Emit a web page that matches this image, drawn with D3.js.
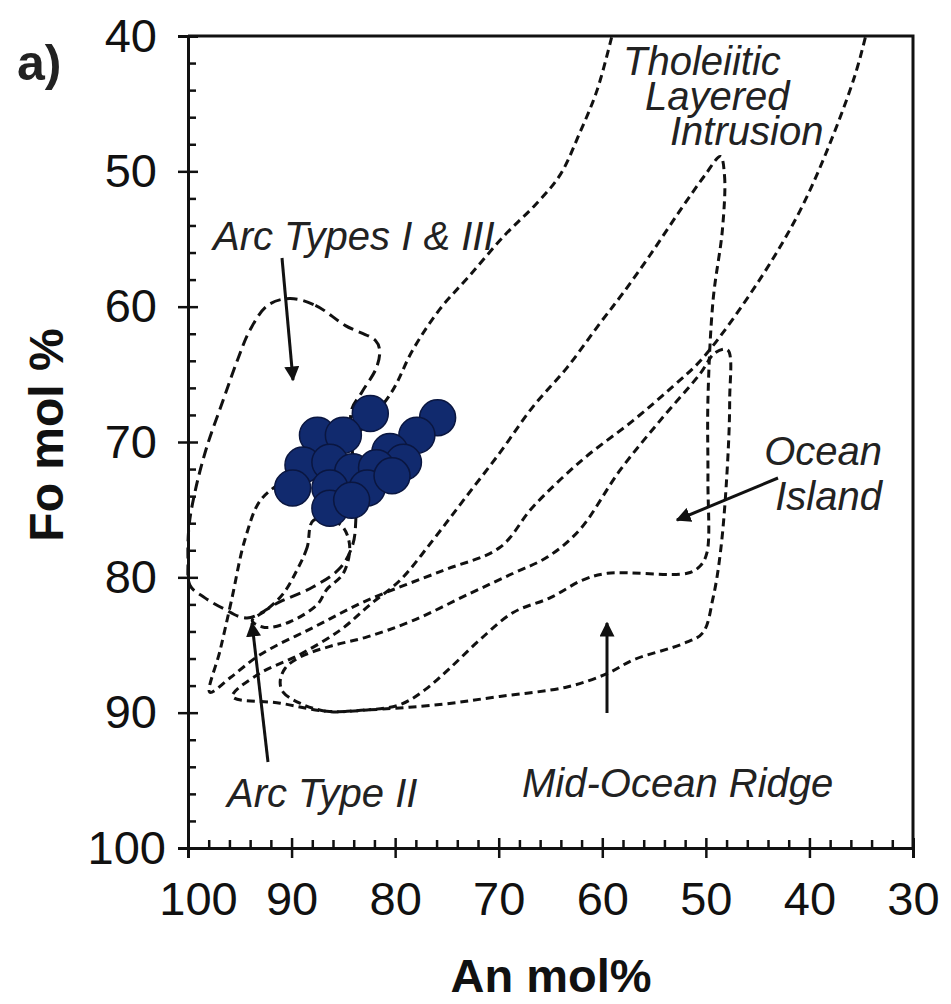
<!DOCTYPE html>
<html>
<head>
<meta charset="utf-8">
<script src="https://cdn.jsdelivr.net/npm/d3@7"></script>
<style>
  body { margin: 0; background: #fff; }
  text { font-family: "Liberation Sans", Arial, sans-serif; }
</style>
</head>
<body>
<svg id="chart" width="951" height="1004"></svg>
<script>
// plagioclase An vs olivine Fo
const anPoints = [82.4, 75.9, 77.9, 87.5, 85.0, 80.5, 79.2, 88.9, 86.3, 84.1, 81.8, 89.9, 86.3, 82.7, 86.3, 80.3, 84.2];
const foPoints = [67.9, 68.2, 69.5, 69.5, 69.5, 70.7, 71.5, 71.7, 71.5, 72.2, 71.9, 73.4, 73.4, 73.4, 74.9, 72.5, 74.3];

const xTicks = [100, 90, 80, 70, 60, 50, 40, 30];
const yTicks = [40, 50, 60, 70, 80, 90, 100];

// field outlines as [An, Fo]
const arcI_III = [[90.2, 59.4], [87.7, 59.9], [84.8, 61.4], [81.9, 62.5], [81.5, 63.2], [81.8, 64.5], [83.2, 66.3],
  [84.2, 67.6], [84.2, 69.9], [83.9, 72.8], [83.8, 75.8], [84.1, 77.6], [85.3, 79.3], [87.9, 80.7], [91.1, 81.8],
  [94.3, 83.0], [96.6, 82.3], [98.4, 81.5], [99.8, 80.6], [100, 78.7], [99.9, 76.2], [99.3, 73.6], [98.2, 70.4],
  [96.6, 66.9], [95.2, 63.9], [94.0, 61.7], [92.3, 59.9]];
const arcII = [[87.9, 75.8], [88.5, 77.8], [89.5, 79.5], [90.8, 81.2], [92.4, 82.4], [93.8, 83.2], [92.6, 83.7],
  [90.2, 83.3], [87.5, 82.0], [86.6, 80.9], [85.0, 79.7], [84.4, 77.6], [85.3, 76.1]];
const tholeiitic = [[59.1, 40.1], [60.5, 44.0], [62.2, 47.2], [64.1, 50.3], [66.5, 52.5], [69.4, 54.7], [72.8, 57.7],
  [75.7, 60.2], [78.3, 63.2], [80.5, 66.5], [84.4, 69.9], [88.2, 71.7], [90.6, 72.8], [93.0, 74.3], [94.5, 77.2],
  [95.8, 81.7], [96.9, 85.4], [97.9, 88.5], [95.9, 87.4], [93.0, 85.7], [87.9, 83.7], [82.7, 81.7], [75.4, 79.5],
  [69.9, 77.8], [66.7, 74.8], [61.9, 71.3], [57.0, 68.4], [53.2, 65.9], [50.3, 63.8], [44.8, 58.0], [40.9, 52.9],
  [38.0, 47.9], [35.6, 42.9], [34.6, 40.1]];
const oceanIsland = [[48.6, 48.9], [48.2, 50.3], [48.4, 54.3], [49.3, 59.5], [49.8, 66.9], [49.8, 72.8], [49.9, 78.2],
  [50.6, 79.2], [51.8, 79.7], [59.5, 79.7], [61.9, 80.2], [65.0, 81.5], [68.6, 82.6], [71.8, 84.6], [74.7, 86.7],
  [77.1, 88.3], [79.5, 89.4], [82.7, 89.8], [86.6, 89.9], [91.1, 89.3], [95.7, 88.8], [93.3, 87.2], [89.2, 85.7],
  [85.3, 83.9], [82.4, 82.0], [79.5, 80.2], [76.3, 77.2], [73.4, 74.3], [69.9, 70.8], [66.7, 67.4], [63.4, 64.5],
  [60.2, 61.2], [58.0, 59.0], [55.4, 56.2], [52.5, 52.9], [50.1, 50.3]];
const midOceanRidge = [[91.1, 87.7], [90.8, 88.5], [89.2, 89.3], [86.6, 89.9], [82.7, 89.8], [75.7, 89.4], [69.9, 88.8],
  [63.4, 88.1], [59.5, 87.1], [57.0, 86.1], [52.2, 84.9], [50.3, 84.1], [49.3, 81.5], [48.6, 78.2], [48.0, 72.8],
  [47.7, 66.9], [47.9, 63.2], [49.1, 63.4], [50.6, 65.0], [54.4, 68.4], [58.3, 72.1], [62.2, 76.5], [65.3, 78.5],
  [68.6, 79.7], [72.8, 81.2], [78.3, 83.2], [82.7, 84.4], [86.3, 85.1], [89.2, 85.9], [90.6, 86.7]];

const labels = [
  {t: "Tholeiitic", x: 623, y: 75},
  {t: "Layered", x: 645, y: 110},
  {t: "Intrusion", x: 670, y: 145},
  {t: "Arc Types I & III", x: 213, y: 250},
  {t: "Ocean", x: 882, y: 465, a: "end"},
  {t: "Island", x: 882, y: 510, a: "end"},
  {t: "Mid-Ocean Ridge", x: 522, y: 797},
  {t: "Arc Type II", x: 227, y: 807}
];

const svg = d3.select("#chart");
const x = d3.scaleLinear().domain([100, 30]).range([188, 913]);
const y = d3.scaleLinear().domain([40, 100]).range([36, 848]);

const loop = d3.line().x(d => x(d[0])).y(d => y(d[1])).curve(d3.curveCatmullRomClosed);
const open = d3.line().x(d => x(d[0])).y(d => y(d[1])).curve(d3.curveCatmullRom);

const fields = svg.append("g").attr("fill", "none").attr("stroke", "#111").attr("stroke-width", 3);
fields.append("path").attr("d", loop(arcI_III)).attr("stroke-dasharray", "11,6");
[arcII, oceanIsland, midOceanRidge].forEach(f => {
  fields.append("path").attr("d", loop(f)).attr("stroke-dasharray", "8,5");
});
fields.append("path").attr("d", open(tholeiitic)).attr("stroke-dasharray", "8,5");

// arrows
const defs = svg.append("defs");
defs.append("marker").attr("id", "head").attr("viewBox", "0 0 10 10").attr("refX", 9).attr("refY", 5)
  .attr("markerWidth", 5).attr("markerHeight", 5).attr("orient", "auto")
  .append("path").attr("d", "M0,0L10,5L0,10Z").attr("fill", "#111");
const arrows = [
  [[282, 258], [293, 380]],
  [[268, 762], [252, 623]],
  [[778, 478], [677, 520]],
  [[607, 713], [607, 623]]
];
svg.append("g").selectAll("line").data(arrows).join("line")
  .attr("x1", d => d[0][0]).attr("y1", d => d[0][1])
  .attr("x2", d => d[1][0]).attr("y2", d => d[1][1])
  .attr("stroke", "#111").attr("stroke-width", 3).attr("marker-end", "url(#head)");

// points
svg.append("g").selectAll("circle").data(anPoints).join("circle")
  .attr("cx", d => x(d)).attr("cy", (d, i) => y(foPoints[i]))
  .attr("r", 18).attr("fill", "#112a6e").attr("stroke", "#0a1640").attr("stroke-width", 1.5);

// frame
svg.append("path").attr("d", `M${x(100)},${y(40)}H${x(30)}V${y(100)}`)
  .attr("fill", "none").attr("stroke", "#111").attr("stroke-width", 3);

// axes
const fs = 47;
svg.append("g").attr("transform", `translate(${x(100)},0)`)
  .call(d3.axisLeft(y).tickValues(yTicks).tickSize(10).tickPadding(21).tickFormat(d3.format("d")))
  .selectAll(".tick text").attr("dx", d => d === 100 ? 9 : 0);
svg.append("g").attr("transform", `translate(${x(100)},0)`)
  .call(d3.axisLeft(y).tickValues(yTicks).tickSize(-10).tickFormat(""));
svg.append("g").attr("transform", `translate(${x(100)},0)`)
  .call(d3.axisLeft(y).tickValues(d3.range(42, 100, 2).filter(v => v % 10)).tickSize(-8).tickFormat(""));
svg.append("g").attr("transform", `translate(0,${y(100)})`)
  .call(d3.axisBottom(x).tickValues(xTicks).tickSize(10).tickPadding(24).tickFormat(d3.format("d")))
  .selectAll(".tick text").attr("dx", d => d === 100 ? 10 : 0);
svg.append("g").attr("transform", `translate(0,${y(100)})`)
  .call(d3.axisBottom(x).tickValues(xTicks).tickSize(-10).tickFormat(""));
svg.append("g").attr("transform", `translate(0,${y(100)})`)
  .call(d3.axisBottom(x).tickValues(d3.range(98, 30, -2).filter(v => v % 10)).tickSize(-8).tickFormat(""));
svg.selectAll(".domain").attr("stroke", "#111").attr("stroke-width", 3);
svg.selectAll(".tick line").attr("stroke", "#111").attr("stroke-width", 2.5);
svg.selectAll(".tick text").attr("font-size", fs).attr("fill", "#111")
  .style("font-family", "'Liberation Sans', Arial, sans-serif");

// labels
svg.append("g").selectAll("text").data(labels).join("text")
  .attr("x", d => d.x).attr("y", d => d.y).attr("text-anchor", d => d.a || "start")
  .attr("font-size", 40).attr("font-style", "italic").attr("fill", "#222").text(d => d.t);

svg.append("text").attr("x", 17).attr("y", 80).attr("font-size", 50).attr("font-weight", "bold")
  .attr("fill", "#222").text("a)");
svg.append("text").attr("transform", "translate(63,435) rotate(-90)").attr("text-anchor", "middle")
  .attr("font-size", 48).attr("font-weight", "bold").attr("fill", "#111").text("Fo mol %");
svg.append("text").attr("x", 551).attr("y", 992).attr("text-anchor", "middle")
  .attr("font-size", 47).attr("font-weight", "bold").attr("fill", "#111").text("An mol%");
</script>
</body>
</html>
